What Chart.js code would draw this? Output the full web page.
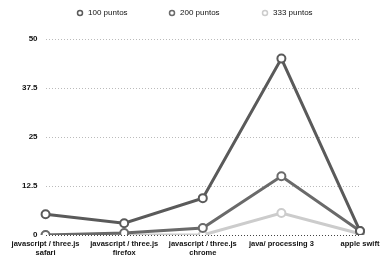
<!DOCTYPE html>
<html lang="en">
<head>
  <meta charset="UTF-8" />
  <title>puntos</title>
  <style>
    * { margin: 0; padding: 0; }
    body { background: #fff; }
    .chartBox { width: 390px; height: 262px; }
  </style>
</head>
<body>
  <div class="chartBox">
    <canvas id="myChart"></canvas>
  </div>
  <script src="https://cdn.jsdelivr.net/npm/chart.js@4"></script>
  <script>
    const labels = [
      ["javascript / three.js", "safari"],
      ["javascript / three.js", "firefox"],
      ["javascript / three.js", "chrome"],
      "java/ processing 3",
      "apple swift",
    ];
    const puntos100 = [5.3, 3, 9.4, 45, 1];
    const puntos200 = [0, 0.5, 1.8, 15, 1];
    const puntos333 = [0, 0, 0, 5.6, 0.3];
    const yTicks = [0, 12.5, 25, 37.5, 50];

    Chart.defaults.font.family = "'Liberation Sans', Arial, sans-serif";
    Chart.defaults.font.size = 8;
    Chart.defaults.font.weight = "bold";
    Chart.defaults.color = "#111";

    function serie(label, values, color) {
      return {
        label: label,
        data: values,
        borderColor: color,
        backgroundColor: "#fff",
        borderWidth: 3,
        pointRadius: 4,
        pointBorderWidth: 2,
        pointBackgroundColor: "#fff",
        pointBorderColor: color,
        tension: 0,
      };
    }

    const data = {
      labels: labels,
      datasets: [
        serie("100 puntos", puntos100, "#5a5a5a"),
        serie("200 puntos", puntos200, "#6a6a6a"),
        serie("333 puntos", puntos333, "#cccccc"),
      ],
    };

    // legend drawn by hand, wide spacing and a short height like the original
    const legendPos = [80, 172, 265];
    const topLegend = {
      id: "topLegend",
      afterDraw(chart) {
        const c = chart.ctx;
        c.save();
        c.font = "8px 'Liberation Sans', Arial, sans-serif";
        c.textBaseline = "middle";
        chart.data.datasets.forEach(function (ds, i) {
          const x = legendPos[i];
          const y = 13;
          c.beginPath();
          c.arc(x, y, 2.5, 0, Math.PI * 2);
          c.fillStyle = "#fff";
          c.fill();
          c.lineWidth = 1.5;
          c.strokeStyle = ds.borderColor;
          c.stroke();
          c.fillStyle = "#111";
          c.fillText(ds.label, x + 8, y);
        });
        c.restore();
      },
    };

    const options = {
      responsive: true,
      maintainAspectRatio: false,
      animation: false,
      layout: { padding: { left: 14, right: 30, top: 39, bottom: 1 } },
      scales: {
        x: {
          offset: false,
          border: { display: false },
          grid: { display: false, drawTicks: false, tickLength: 0 },
          ticks: { maxRotation: 0, autoSkip: false, padding: 4, font: { size: 7.5 } },
        },
        y: {
          min: 0,
          max: 50,
          afterBuildTicks: function (axis) {
            axis.ticks = yTicks.map(function (v) { return { value: v }; });
          },
          border: { display: false, dash: [1, 2] },
          grid: {
            color: function (ctx) { return ctx.tick && ctx.tick.value === 0 ? "#444" : "#bbb"; },
            drawTicks: false,
          },
          ticks: { padding: 8 },
        },
      },
      plugins: {
        legend: { display: false },
        tooltip: { enabled: false },
      },
    };

    const ctx = document.getElementById("myChart").getContext("2d");
    const myChart = new Chart(ctx, { type: "line", data: data, options: options, plugins: [topLegend] });
  </script>
</body>
</html>
